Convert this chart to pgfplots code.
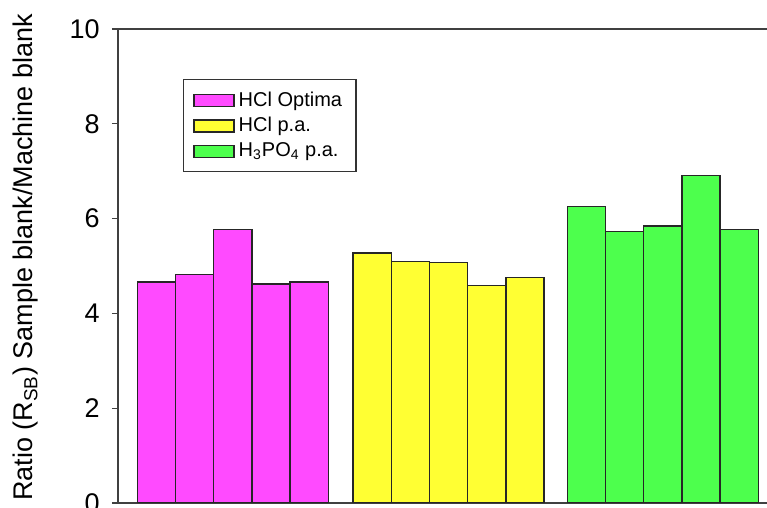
\documentclass[border=0pt]{standalone}
\usepackage{fontspec}
\setmainfont{Liberation Sans}
\usepackage{pgfplots}
\pgfplotsset{compat=1.18}
\definecolor{cpink}{RGB}{255,74,255}
\definecolor{cyel}{RGB}{255,255,51}
\definecolor{cgrn}{RGB}{77,255,77}
\begin{document}
\begin{tikzpicture}
\path[use as bounding box] (-59pt,-2.5pt) rectangle (324.5pt,251.5pt);
\clip (-59pt,-2.5pt) rectangle (324.5pt,251.5pt);
\begin{axis}[
  scale only axis, width=329.5pt, height=237pt,
  at={(0,0)}, anchor=south west,
  xmin=-1.005, xmax=16.25, ymin=0, ymax=10,
  ytick={0,2,4,6,8,10}, xtick=\empty,
  tick align=outside, major tick length=3pt,
  axis line style={draw=black!75, line width=0.6pt},
  every tick/.style={black!75, line width=0.6pt},
  ytick pos=left,
  font=\fontsize{13.5}{16}\selectfont,
  /pgf/number format/assume math mode=true,
  yticklabel style={inner sep=0pt, xshift=-6pt},
  ylabel={Ratio (R\textsubscript{SB}) Sample blank/Machine blank},
  ylabel style={at={(axis description cs:-0.1593,0.518)}, anchor=north, inner sep=0pt},
  legend style={at={(0.0982,0.894)}, anchor=north west, draw=black!80, line width=0.6pt,
    font=\fontsize{10}{12}\selectfont, inner xsep=5pt, inner ysep=4pt, row sep=0pt},
  legend cell align=left,
]
\addplot[ybar, bar width=1, bar shift=0pt, fill=cpink, draw=black!85, line width=0.7pt,
  legend image code/.code={\draw[fill=cpink, draw=black!85, line width=0.7pt] (0pt,-3pt) rectangle (20pt,3pt);}]
  coordinates {(0,4.66) (1,4.82) (2,5.77) (3,4.62) (4,4.66)};
\addlegendentry{HCl Optima}
\addplot[ybar, bar width=1, bar shift=0pt, fill=cyel, draw=black!85, line width=0.7pt,
  legend image code/.code={\draw[fill=cyel, draw=black!85, line width=0.7pt] (0pt,-3pt) rectangle (20pt,3pt);}]
  coordinates {(5.65,5.27) (6.65,5.10) (7.65,5.07) (8.65,4.59) (9.65,4.76)};
\addlegendentry{HCl p.a.}
\addplot[ybar, bar width=1, bar shift=0pt, fill=cgrn, draw=black!85, line width=0.7pt,
  legend image code/.code={\draw[fill=cgrn, draw=black!85, line width=0.7pt] (0pt,-3pt) rectangle (20pt,3pt);}]
  coordinates {(11.26,6.25) (12.26,5.73) (13.26,5.84) (14.26,6.91) (15.26,5.77)};
\addlegendentry{H\textsubscript{3}PO\textsubscript{4} p.a.}
\end{axis}
\end{tikzpicture}
\end{document}
